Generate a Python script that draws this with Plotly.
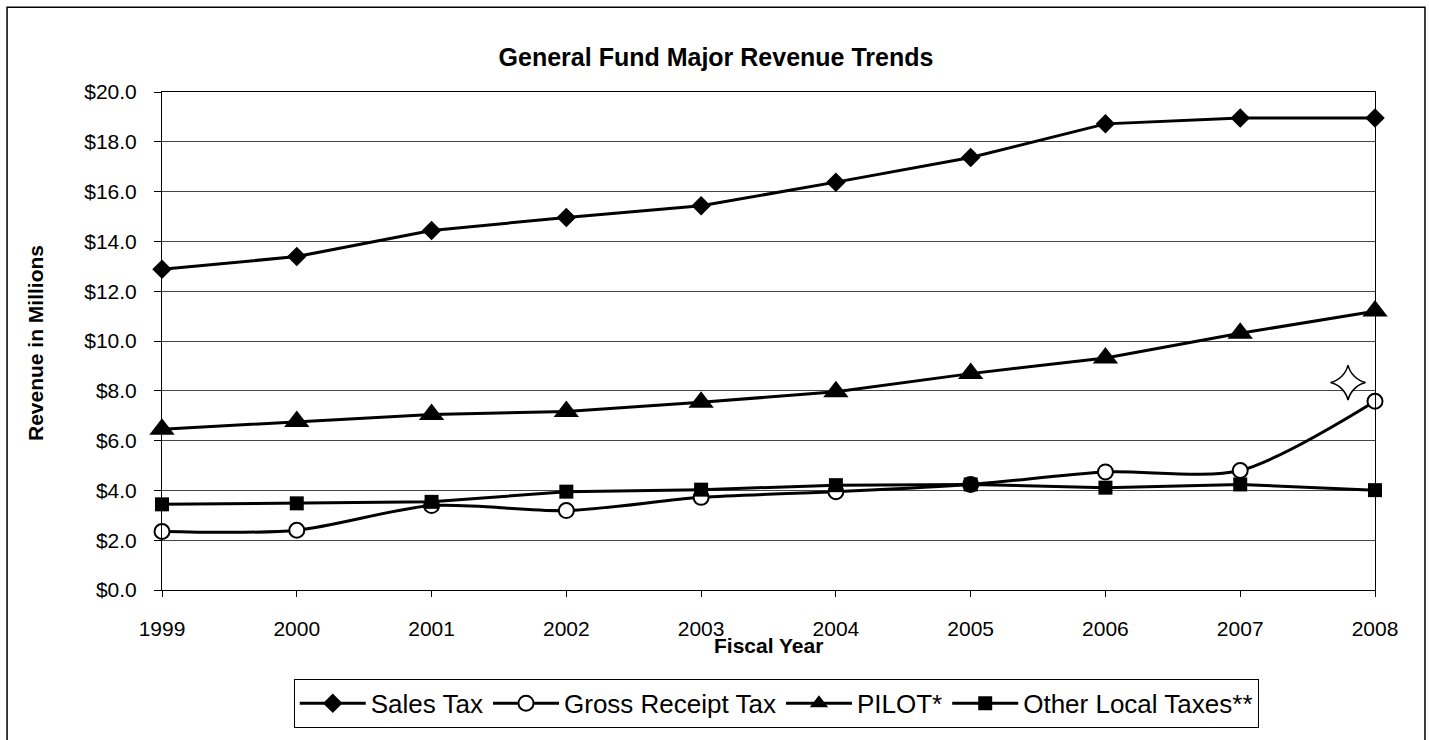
import plotly.graph_objects as go

# ---- data ----
years = [1999, 2000, 2001, 2002, 2003, 2004, 2005, 2006, 2007, 2008]
sales_tax = [12.88, 13.39, 14.44, 14.96, 15.43, 16.38, 17.37, 18.72, 18.96, 18.96]
gross_receipt_tax = [2.35, 2.40, 3.39, 3.19, 3.72, 3.95, 4.24, 4.74, 4.80, 7.58]
pilot = [6.46, 6.77, 7.05, 7.17, 7.54, 7.96, 8.69, 9.32, 10.31, 11.20]
other_local_taxes = [3.44, 3.48, 3.54, 3.95, 4.03, 4.21, 4.24, 4.11, 4.24, 4.01]
series_names = ["Sales Tax", "Gross Receipt Tax", "PILOT*", "Other Local Taxes**"]
star_x = [2007.8]
star_y = [8.33]
y_ticks = [0, 2, 4, 6, 8, 10, 12, 14, 16, 18, 20]

FONT = "Arial, 'Liberation Sans', sans-serif"

fig = go.Figure()

fig.add_trace(go.Scatter(
    x=years, y=sales_tax, name=series_names[0], mode="lines+markers",
    line=dict(color="black", width=3),
    marker=dict(symbol="diamond", size=15, color="black"),
    cliponaxis=False))
fig.add_trace(go.Scatter(
    x=years, y=gross_receipt_tax, name=series_names[1], mode="lines+markers",
    line=dict(color="black", width=3, shape="spline", smoothing=0.8),
    marker=dict(symbol="circle", size=15, color="white", line=dict(color="black", width=2)),
    cliponaxis=False))
fig.add_trace(go.Scatter(
    x=years, y=pilot, name=series_names[2], mode="lines+markers",
    line=dict(color="black", width=3),
    marker=dict(symbol="triangle-up", size=22, color="black"),
    cliponaxis=False))
fig.add_trace(go.Scatter(
    x=years, y=other_local_taxes, name=series_names[3], mode="lines+markers",
    line=dict(color="black", width=3),
    marker=dict(symbol="square", size=14, color="black"),
    cliponaxis=False))
fig.add_trace(go.Scatter(
    x=star_x, y=star_y, mode="markers", showlegend=False, hoverinfo="skip",
    marker=dict(symbol="star-diamond", size=25, color="white", line=dict(color="black", width=1.5)),
    cliponaxis=False))

L, R, T, B = 161.5, 54, 92, 143
W, H = 1429, 740
pw, ph = W - L - R, H - T - B

def px_x(p):
    return (p - L) / pw

def px_y(p):
    return (H - B - p) / ph

fig.update_layout(
    width=W, height=H, autosize=False,
    margin=dict(l=L, r=R, t=T, b=B, pad=0),
    paper_bgcolor="white", plot_bgcolor="white",
    font=dict(family=FONT, color="black", size=21),
    title=dict(text="<b>General Fund Major Revenue Trends</b>", x=716 / W, xref="container",
               xanchor="center", y=1 - 57 / H, yref="container", yanchor="middle",
               font=dict(size=25, family=FONT, color="black")),
    showlegend=True,
    legend=dict(orientation="h", x=px_x(776), xanchor="center", y=px_y(687), yanchor="top",
                bordercolor="black", borderwidth=1, bgcolor="white",
                font=dict(size=26, family=FONT, color="black"), itemwidth=66,
                tracegroupgap=0),
    xaxis=dict(range=[1999, 2008], tickmode="array", tickvals=years,
               ticktext=[str(y) for y in years], showgrid=False, zeroline=False,
               showline=True, linecolor="black", linewidth=1, mirror=True,
               ticks="outside", ticklen=6, tickcolor="black", tickwidth=1,
               ticklabelstandoff=14, tickfont=dict(size=21)),
    yaxis=dict(range=[0, 20], tickmode="array", tickvals=y_ticks,
               ticktext=["$%.1f" % v for v in y_ticks], showgrid=True,
               gridcolor="#444444", gridwidth=1, zeroline=False,
               showline=True, linecolor="black", linewidth=1, mirror=True,
               ticks="outside", ticklen=7, tickcolor="black", tickwidth=1,
               ticklabelstandoff=13, tickfont=dict(size=21)),
    annotations=[
        dict(text="<b>Fiscal Year</b>", x=0.5, xref="paper", y=px_y(653), yref="paper",
             xanchor="center", yanchor="middle", showarrow=False,
             font=dict(size=21, family=FONT, color="black")),
        dict(text="<b>Revenue in Millions</b>", x=px_x(35), xref="paper", y=px_y(347), yref="paper",
             xanchor="center", yanchor="middle", showarrow=False, textangle=-90,
             font=dict(size=21, family=FONT, color="black")),
    ],
    shapes=[
        dict(type="rect", xref="paper", yref="paper",
             x0=px_x(6.5), x1=px_x(1425), y0=px_y(780), y1=px_y(6),
             line=dict(color="black", width=1.5), fillcolor="rgba(0,0,0,0)", layer="below"),
    ],
)

fig.write_html("out.html")
